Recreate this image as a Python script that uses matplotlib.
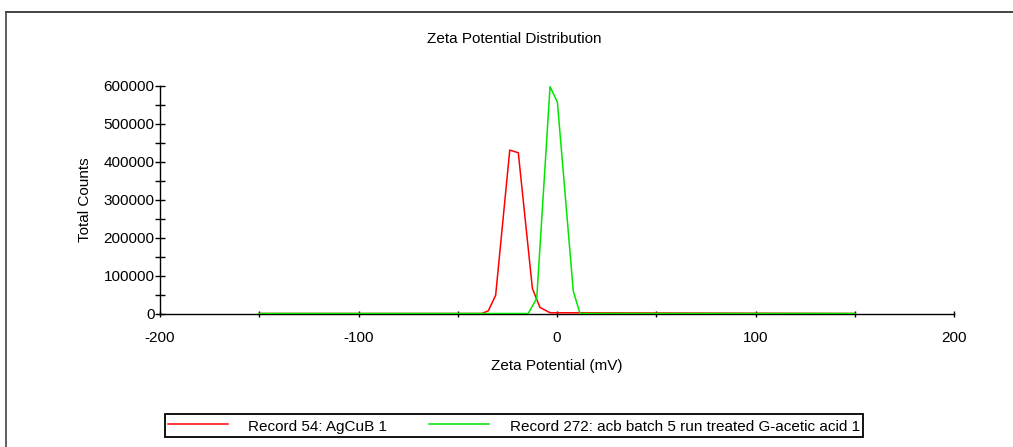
import matplotlib
matplotlib.use("Agg")
import matplotlib.pyplot as plt
from matplotlib.lines import Line2D
from matplotlib.ticker import MultipleLocator

plt.rcParams['font.family'] = ['Liberation Sans', 'DejaVu Sans']
plt.rcParams['axes.unicode_minus'] = False

# Data
red_label = "Record 54: AgCuB 1"
red_x = [-150, -37.9, -34.6, -30.9, -23.8, -19.5, -12.4, -8.6, -3.5, 150]
red_y = [0, 0, 7000, 48000, 430000, 423000, 66000, 16000, 2000, 0]

green_label = "Record 272: acb batch 5 run treated G-acetic acid 1"
green_x = [-150, -14.5, -10.2, -3.5, 0.2, 8.2, 11.6, 150]
green_y = [0, 0, 40000, 597000, 556000, 59000, 0, 0]

title = "Zeta Potential Distribution"
xlabel = "Zeta Potential (mV)"
ylabel = "Total Counts"

W, H = 1013, 447
fig = plt.figure(figsize=(W / 100, H / 100), dpi=100)
ax = fig.add_axes([160 / W, 1 - 313.5 / H, (954 - 160) / W, (313.5 - 85.5) / H])

ax.plot(red_x, red_y, color='#ff0000', lw=1.1, label=red_label, zorder=3)
ax.plot(green_x, green_y, color='#00e600', lw=1.1, label=green_label, zorder=4)

ax.set_xlim(-200, 200)
ax.set_ylim(0, 600000)
ax.xaxis.set_major_locator(MultipleLocator(100))
ax.xaxis.set_minor_locator(MultipleLocator(50))
ax.yaxis.set_major_locator(MultipleLocator(100000))
ax.yaxis.set_minor_locator(MultipleLocator(50000))

for s in ['top', 'right']:
    ax.spines[s].set_visible(False)
for s in ['left', 'bottom']:
    ax.spines[s].set_linewidth(1.0)
    ax.spines[s].set_color('black')
    ax.spines[s].set_zorder(2)

ax.tick_params(axis='x', which='both', direction='inout', length=5, width=1.0,
               labelsize=11, pad=10)
ax.tick_params(axis='y', which='both', direction='inout', length=7, width=1.0,
               labelsize=11, pad=0.5)

fig.text(514 / W, 1 - 39 / H, title, fontsize=11, ha='center', va='center')
ax.set_xlabel(xlabel, fontsize=11, labelpad=10)
ax.set_ylabel(ylabel, fontsize=11, labelpad=8)

leg = fig.legend(loc='center', bbox_to_anchor=(514 / W, 1 - 425.5 / H),
                 ncol=2, fontsize=11, frameon=True, fancybox=False,
                 edgecolor='black', framealpha=1, borderpad=0.2,
                 handlelength=3.9, handleheight=1.35, handletextpad=1.35,
                 columnspacing=2.75)
leg.get_frame().set_linewidth(1.3)

# Outer frame (partially cropped in the reference)
fig.add_artist(Line2D([6 / W, 1.0], [1 - 12 / H, 1 - 12 / H], color='#222222', lw=1.2,
                      transform=fig.transFigure))
fig.add_artist(Line2D([6 / W, 6 / W], [0.0, 1 - 12 / H], color='#444444', lw=1.2,
                      transform=fig.transFigure))

fig.savefig("out.png", dpi=100)
